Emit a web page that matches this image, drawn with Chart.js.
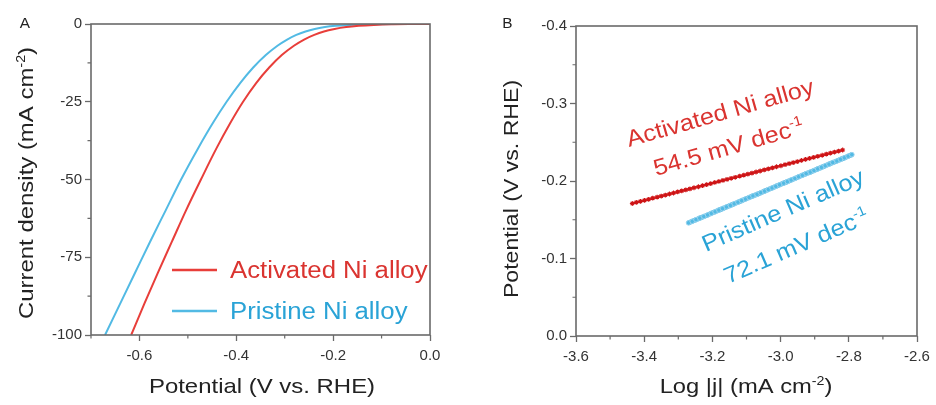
<!DOCTYPE html>
<html>
<head>
<meta charset="utf-8">
<script src="https://cdn.jsdelivr.net/npm/chart.js@4/dist/chart.umd.min.js"></script>
<style>
  html, body { margin: 0; padding: 0; background: #fff; }
  #wrap { position: relative; width: 936px; height: 405px; overflow: hidden; }
  canvas { position: absolute; top: 0; }
  #cA { left: 0; }
  #cB { left: 468px; }
</style>
</head>
<body>
<div id="wrap">
  <canvas id="cA" width="468" height="405"></canvas>
  <canvas id="cB" width="468" height="405"></canvas>
</div>
<script>
// ---- Panel A: polarization curves (V vs. RHE, mA cm^-2) ----
const currentLevels = [-100, -90, -80, -70, -60, -50, -40, -32, -25, -19, -14, -10, -7, -5, -3.5, -2.4, -1.6, -1.0, -0.6, -0.3, -0.1, -0.02, 0];
const potentialActivated = [-0.617, -0.590, -0.562, -0.533, -0.504, -0.473, -0.441, -0.413, -0.386, -0.359, -0.332, -0.306,
                            -0.281, -0.260, -0.239, -0.219, -0.197, -0.173, -0.147, -0.116, -0.080, -0.040, 0.0];
const potentialPristine  = [-0.671, -0.640, -0.609, -0.578, -0.546, -0.514, -0.479, -0.449, -0.420, -0.392, -0.365, -0.339,
                            -0.315, -0.295, -0.276, -0.257, -0.238, -0.217, -0.195, -0.165, -0.120, -0.060, 0.0];

const potentialTicksA = [-0.6, -0.4, -0.2, 0];
const potentialMinorA = [-0.7, -0.5, -0.3, -0.1];
const currentTicksA   = [-100, -75, -50, -25, 0];
const currentMinorA   = [-87.5, -62.5, -37.5, -12.5];

// ---- Panel B: Tafel plots (log|j| vs. potential) ----
const logjActivated = [-3.435, -3.423, -3.411, -3.399, -3.387, -3.375, -3.362, -3.350, -3.338, -3.326, -3.314, -3.302, -3.290,
                       -3.278, -3.266, -3.254, -3.241, -3.229, -3.217, -3.205, -3.193, -3.181, -3.169, -3.157, -3.145, -3.133,
                       -3.120, -3.108, -3.096, -3.084, -3.072, -3.060, -3.048, -3.036, -3.024, -3.012, -2.999, -2.987, -2.975,
                       -2.963, -2.951, -2.939, -2.927, -2.915, -2.903, -2.891, -2.878, -2.866, -2.854, -2.842, -2.830, -2.818];
const etaActivated  = [-0.1710, -0.1724, -0.1737, -0.1751, -0.1764, -0.1778, -0.1791, -0.1805, -0.1818, -0.1832, -0.1845, -0.1859,
                       -0.1872, -0.1886, -0.1899, -0.1913, -0.1926, -0.1940, -0.1954, -0.1967, -0.1981, -0.1994, -0.2008, -0.2021,
                       -0.2035, -0.2048, -0.2062, -0.2075, -0.2089, -0.2102, -0.2116, -0.2129, -0.2143, -0.2156, -0.2170, -0.2184,
                       -0.2197, -0.2211, -0.2224, -0.2238, -0.2251, -0.2265, -0.2278, -0.2292, -0.2305, -0.2319, -0.2332, -0.2346,
                       -0.2359, -0.2373, -0.2386, -0.2400];
const logjPristine  = [-3.270, -3.259, -3.248, -3.237, -3.225, -3.214, -3.203, -3.192, -3.181, -3.170, -3.159, -3.147, -3.136,
                       -3.125, -3.114, -3.103, -3.092, -3.081, -3.069, -3.058, -3.047, -3.036, -3.025, -3.014, -3.003, -2.991,
                       -2.980, -2.969, -2.958, -2.947, -2.936, -2.925, -2.913, -2.902, -2.891, -2.880, -2.869, -2.858, -2.847,
                       -2.835, -2.824, -2.813, -2.802, -2.791];
const etaPristine   = [-0.1460, -0.1480, -0.1501, -0.1521, -0.1542, -0.1562, -0.1583, -0.1603, -0.1624, -0.1644, -0.1665, -0.1685,
                       -0.1706, -0.1726, -0.1747, -0.1767, -0.1788, -0.1808, -0.1828, -0.1849, -0.1869, -0.1890, -0.1910, -0.1931,
                       -0.1951, -0.1972, -0.1992, -0.2013, -0.2033, -0.2054, -0.2074, -0.2095, -0.2115, -0.2135, -0.2156, -0.2176,
                       -0.2197, -0.2217, -0.2238, -0.2258, -0.2279, -0.2299, -0.2320, -0.2340];

const logjTicks = [-3.6, -3.4, -3.2, -3.0, -2.8, -2.6];
const logjMinor = [-3.5, -3.3, -3.1, -2.9, -2.7];
const etaTicks  = [-0.4, -0.3, -0.2, -0.1, 0];
const etaMinor  = [-0.35, -0.25, -0.15, -0.05];

const seriesNames = ['Activated Ni alloy', 'Pristine Ni alloy'];
const tafelSlopes = ['54.5', '72.1'];

// ---- styling ----
const FONT = '"Liberation Sans", Arial, Helvetica, sans-serif';
const AXIS = '#6a6a6a';
const TEXT = '#222';
const RED_LINE = 'rgb(232,62,58)';
const BLUE_LINE = 'rgb(82,186,228)';
const RED_TEXT = 'rgb(218,52,48)';
const BLUE_TEXT = 'rgb(42,163,214)';

function pairs(xs, ys) { return xs.map((x, i) => ({ x: x, y: ys[i] })); }

// Draws a run of text pieces; pieces flagged as superscript are smaller and raised.
function drawRich(ctx, parts, x, y, o) {
  const size = o.size, sx = o.sx || 1, supSize = size * 0.6;
  ctx.save();
  ctx.translate(x, y);
  ctx.rotate((o.angle || 0) * Math.PI / 180);
  ctx.scale(sx, 1);
  ctx.fillStyle = o.color || TEXT;
  ctx.textBaseline = 'alphabetic';
  ctx.textAlign = 'left';
  let total = 0;
  const widths = parts.map(p => {
    ctx.font = (p[1] ? supSize : size) + 'px ' + FONT;
    const w = ctx.measureText(p[0]).width;
    total += w;
    return w;
  });
  let cx = o.align === 'center' ? -total / 2 : 0;
  parts.forEach((p, i) => {
    ctx.font = (p[1] ? supSize : size) + 'px ' + FONT;
    ctx.fillText(p[0], cx, p[1] ? -size * 0.4 : 0);
    cx += widths[i];
  });
  ctx.restore();
}

// Frame, minor ticks, legend keys and text for a panel.
function decorPlugin(opts) {
  return {
    id: 'panelDecor',
    afterDraw(chart) {
      const ctx = chart.ctx, a = chart.chartArea;
      const xs = chart.scales.x, ys = chart.scales.y;
      ctx.save();
      ctx.strokeStyle = AXIS;
      ctx.lineWidth = 1.6;
      ctx.strokeRect(a.left, a.top, a.right - a.left, a.bottom - a.top);
      ctx.lineWidth = 1.2;
      ctx.beginPath();
      opts.minorX.forEach(v => {
        const p = xs.getPixelForValue(v);
        ctx.moveTo(p, a.bottom); ctx.lineTo(p, a.bottom + 3.5);
      });
      opts.minorY.forEach(v => {
        const p = ys.getPixelForValue(v);
        ctx.moveTo(a.left - 3.5, p); ctx.lineTo(a.left, p);
      });
      ctx.stroke();
      ctx.restore();
      if (opts.legend) {
        opts.legend.forEach(l => {
          ctx.save();
          ctx.strokeStyle = l.line;
          ctx.lineWidth = 2.6;
          ctx.beginPath();
          ctx.moveTo(l.x0, l.y); ctx.lineTo(l.x1, l.y);
          ctx.stroke();
          ctx.restore();
        });
      }
      opts.texts.forEach(t => drawRich(ctx, t.parts, t.x, t.y, t));
    }
  };
}

function axisCommon(ticksArr, fmt) {
  return {
    type: 'linear',
    border: { display: false },
    grid: { drawOnChartArea: false, drawTicks: true, tickLength: 6, tickColor: AXIS, tickWidth: 1.3 },
    ticks: { color: '#333', font: { family: FONT, size: 15 }, callback: fmt, maxRotation: 0, autoSkip: false },
    afterBuildTicks: s => { s.ticks = ticksArr.map(v => ({ value: v })); }
  };
}

// ---- Panel A ----
const xA = axisCommon(potentialTicksA, v => Number(v).toFixed(1));
Object.assign(xA, { min: -0.7, max: 0, position: 'bottom', afterFit: s => { s.height = 70; } });
xA.ticks.padding = 6;
const yA = axisCommon(currentTicksA, v => String(v));
Object.assign(yA, { min: -100, max: 0, position: 'left', afterFit: s => { s.width = 91; } });
yA.ticks.padding = 3;

new Chart(document.getElementById('cA'), {
  type: 'line',
  data: {
    datasets: [
      { label: seriesNames[0], data: pairs(potentialActivated, currentLevels), borderColor: RED_LINE,
        borderWidth: 2, pointRadius: 0, cubicInterpolationMode: 'monotone', fill: false },
      { label: seriesNames[1], data: pairs(potentialPristine, currentLevels), borderColor: BLUE_LINE,
        borderWidth: 2, pointRadius: 0, cubicInterpolationMode: 'monotone', fill: false }
    ]
  },
  options: {
    responsive: false, animation: false, events: [],
    layout: { padding: { left: 0, right: 38, top: 24, bottom: 0 } },
    plugins: { legend: { display: false }, tooltip: { enabled: false } },
    scales: { x: xA, y: yA }
  },
  plugins: [decorPlugin({
    minorX: potentialMinorA, minorY: currentMinorA,
    legend: [
      { x0: 172, x1: 217, y: 270, line: RED_LINE },
      { x0: 172, x1: 217, y: 311, line: BLUE_LINE }
    ],
    texts: [
      { parts: [['A']], x: 25, y: 28, size: 14, sx: 1.1, align: 'center' },
      { parts: [['Current density (mA cm'], ['-2', true], [')']], x: 33, y: 183, size: 21, sx: 1.14, angle: -90, align: 'center' },
      { parts: [['Potential (V vs. RHE)']], x: 262, y: 393, size: 21, sx: 1.14, align: 'center' },
      { parts: [[seriesNames[0]]], x: 230, y: 278, size: 23, sx: 1.12, color: RED_TEXT },
      { parts: [[seriesNames[1]]], x: 230, y: 319, size: 23, sx: 1.12, color: BLUE_TEXT }
    ]
  })]
});

// ---- Panel B ----
const xB = axisCommon(logjTicks, v => Number(v).toFixed(1));
Object.assign(xB, { min: -3.6, max: -2.6, position: 'bottom', afterFit: s => { s.height = 69; } });
xB.ticks.padding = 6;
const yB = axisCommon(etaTicks, v => Number(v).toFixed(1));
Object.assign(yB, { min: -0.4, max: 0, reverse: true, position: 'left', afterFit: s => { s.width = 108; } });
yB.ticks.padding = 3;

new Chart(document.getElementById('cB'), {
  type: 'line',
  data: {
    datasets: [
      { label: seriesNames[0], data: pairs(logjActivated, etaActivated), borderColor: RED_LINE, borderWidth: 2.4,
        pointStyle: 'star', pointRadius: 2.4, pointBorderColor: 'rgb(205,20,22)', pointBackgroundColor: 'rgb(205,20,22)',
        pointBorderWidth: 1.1, tension: 0, fill: false },
      { label: seriesNames[1], data: pairs(logjPristine, etaPristine), borderColor: BLUE_LINE, borderWidth: 5,
        pointStyle: 'circle', pointRadius: 2.3, pointBorderColor: 'rgb(150,210,238)', pointBackgroundColor: BLUE_LINE,
        pointBorderWidth: 1, tension: 0, fill: false }
    ]
  },
  options: {
    responsive: false, animation: false, events: [],
    layout: { padding: { left: 0, right: 19, top: 26, bottom: 0 } },
    plugins: { legend: { display: false }, tooltip: { enabled: false } },
    scales: { x: xB, y: yB }
  },
  plugins: [decorPlugin({
    minorX: logjMinor, minorY: etaMinor,
    texts: [
      { parts: [['B']], x: 39.5, y: 28, size: 14, sx: 1.1, align: 'center' },
      { parts: [['Potential (V vs. RHE)']], x: 50, y: 189, size: 21, sx: 1.1, angle: -90, align: 'center' },
      { parts: [['Log |j| (mA cm'], ['-2', true], [')']], x: 278, y: 393, size: 21, sx: 1.13, align: 'center' },
      { parts: [[seriesNames[0]]], x: 161, y: 147, size: 23, sx: 1.1, angle: -16, color: RED_TEXT },
      { parts: [[tafelSlopes[0] + ' mV dec'], ['-1', true]], x: 188, y: 176, size: 23, sx: 1.1, angle: -16, color: RED_TEXT },
      { parts: [[seriesNames[1]]], x: 238, y: 252, size: 23, sx: 1.1, angle: -23.5, color: BLUE_TEXT },
      { parts: [[tafelSlopes[1] + ' mV dec'], ['-1', true]], x: 260, y: 284, size: 23, sx: 1.1, angle: -23.5, color: BLUE_TEXT }
    ]
  })]
});
</script>
</body>
</html>
